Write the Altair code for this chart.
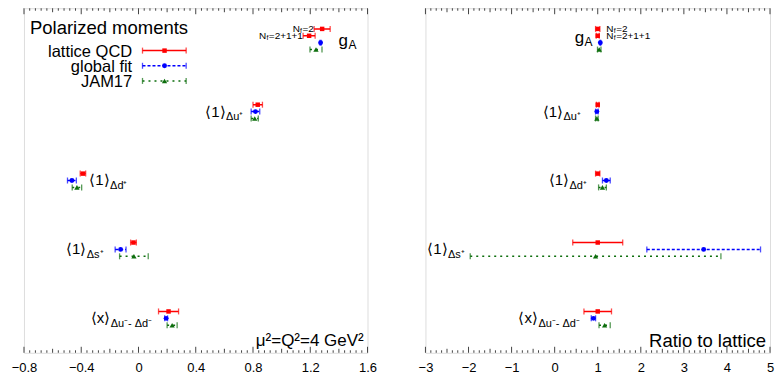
import altair as alt
import numpy as np
import pandas as pd

# ---------------- data ----------------
rows = ["gA", "du", "dd", "ds", "x"]
label_main = ["g", "⟨1⟩", "⟨1⟩", "⟨1⟩", "⟨x⟩"]
label_sub = ["A", "Δu⁺", "Δd⁺", "Δs⁺", "Δu⁻- Δd⁻"]

point_row = [0, 0, 0, 0, 1, 1, 1, 2, 2, 2, 3, 3, 3, 4, 4, 4]
point_series = ["lattice", "lattice", "global", "jam"] + ["lattice", "global", "jam"] * 4
point_tag = ["2", "2+1+1"] + [""] * 14

moment_value = [1.283, 1.192, 1.272, 1.240, 0.833, 0.817, 0.812,
                -0.388, -0.465, -0.430, -0.035, -0.125, -0.032, 0.210, 0.193, 0.235]
moment_err = [0.056, 0.042, 0.004, 0.042, 0.033, 0.030, 0.025,
              0.019, 0.031, 0.033, 0.020, 0.038, 0.100, 0.070, 0.010, 0.035]
ratio_value = [1.0, 1.0, 1.06, 1.035, 1.0, 0.98, 0.98,
               1.0, 1.20, 1.11, 1.0, 3.46, 0.95, 1.0, 0.90, 1.16]
ratio_err = [0.05, 0.035, 0.01, 0.04, 0.03, 0.03, 0.03,
             0.05, 0.09, 0.09, 0.58, 1.32, 2.91, 0.32, 0.05, 0.13]

series_names = ["lattice", "global", "jam"]
series_labels = ["lattice QCD", "global fit", "JAM17"]
left_ticks_lab = [-0.8, -0.4, 0, 0.4, 0.8, 1.2, 1.6]
right_ticks_lab = [-3, -2, -1, 0, 1, 2, 3, 4, 5]

# ---------------- layout / styling ----------------
FONT = "Liberation Sans"
FRAME = "#444444"
W_L, W_R, H = 344, 345, 345
colors = ["#ff0000", "#0000ff", "#0d6e0d"]
dashes = [[1, 0], [3, 2], [2, 4]]
shapes = ["square", "circle", "triangle-up"]
sizes = [20, 28, 32]

color_scale = alt.Scale(domain=series_names, range=colors)
dash_scale = alt.Scale(domain=series_names, range=dashes)
shape_scale = alt.Scale(domain=series_names, range=shapes)
size_scale = alt.Scale(domain=series_names, range=sizes)
ys = alt.Scale(domain=[0, 5], reverse=True, nice=False, zero=False)

df = pd.DataFrame({"row": point_row, "series": point_series, "tag": point_tag,
                   "mv": moment_value, "me": moment_err,
                   "rv": ratio_value, "re": ratio_err})
df["k"] = df.groupby("row").cumcount()
kg = df[df.series == "global"].set_index("row")["k"]
df["pos"] = df["row"] + 0.5 + 0.1 * (df["k"] - df["row"].map(kg))


def tick_frame(lo, hi, minor, medium, major):
    t = np.round(np.arange(lo, hi + minor / 2, minor), 6)
    lev = []
    for v in t:
        if abs(v / major - round(v / major)) < 1e-6:
            lev.append("major")
        elif abs(v / medium - round(v / medium)) < 1e-6:
            lev.append("medium")
        else:
            lev.append("minor")
    return pd.DataFrame({"t": t, "lev": lev})


def panel(vcol, ecol, domain, ticks_lab, fmt, ticks_df, width, anchors, label_y, extras):
    d = df.copy()
    d["v"] = d[vcol]
    d["lo"] = d[vcol] - d[ecol]
    d["hi"] = d[vcol] + d[ecol]
    xs = alt.Scale(domain=domain, nice=False, zero=False)
    xaxis = alt.Axis(values=ticks_lab, format=fmt, ticks=False, domain=False, grid=False,
                     labelFont=FONT, labelFontSize=13, labelColor="#000", labelPadding=9,
                     title=None, labelFlush=False, labelOverlap=False)

    def X(f):
        return alt.X(f, scale=xs, axis=xaxis)

    Y = alt.Y("pos:Q", scale=ys, axis=None)
    base = alt.Chart(d)
    bars = base.mark_rule(strokeWidth=1.5).encode(
        x=X("lo:Q"), x2="hi:Q", y=Y,
        color=alt.Color("series:N", scale=color_scale, legend=None),
        strokeDash=alt.StrokeDash("series:N", scale=dash_scale, legend=None))
    caps = base.transform_fold(["lo", "hi"], as_=["end", "xe"]).mark_tick(
        orient="vertical", size=6, thickness=1.3).encode(
        x=X("xe:Q"), y=Y, color=alt.Color("series:N", scale=color_scale, legend=None))
    pts = base.mark_point(filled=True, opacity=1).encode(
        x=X("v:Q"), y=Y,
        color=alt.Color("series:N", scale=color_scale, legend=None),
        shape=alt.Shape("series:N", scale=shape_scale, legend=None),
        size=alt.Size("series:N", scale=size_scale, legend=None))

    layers = [bars, caps, pts]

    # inward tick marks top and bottom
    tc = alt.Chart(ticks_df)
    for lev, ln in [("major", 6), ("medium", 4), ("minor", 2.5)]:
        layers.append(tc.transform_filter(alt.datum.lev == lev).mark_rule(
            color=FRAME, strokeWidth=1).encode(x=X("t:Q"), y=alt.value(H), y2=alt.value(H - ln)))
        layers.append(tc.transform_filter(alt.datum.lev == lev).mark_rule(
            color=FRAME, strokeWidth=1).encode(x=X("t:Q"), y=alt.value(0), y2=alt.value(ln)))

    # row labels (main text + subscript)
    lab = pd.DataFrame({"row": rows, "main": label_main, "sub": label_sub,
                        "ax": anchors, "ly": label_y})
    lc = alt.Chart(lab)
    layers.append(lc.mark_text(align="right", baseline="alphabetic", font=FONT, color="#000").encode(
        x=X("ax:Q"), y=alt.Y("ly:Q", scale=ys, axis=None), text="main:N",
        size=alt.condition("datum.row == 'gA'", alt.value(17), alt.value(15))))
    layers.append(lc.mark_text(align="left", baseline="alphabetic", font=FONT, color="#000", dy=3.5, dx=0.5).encode(
        x=X("ax:Q"), y=alt.Y("ly:Q", scale=ys, axis=None), text="sub:N",
        size=alt.condition("datum.row == 'gA'", alt.value(12), alt.value(11))))

    for e in extras:
        layers.append(e(X))
    return alt.layer(*layers).properties(width=width, height=H)


def nf_labels(xs_pos):
    def make(X):
        t = df[df.tag != ""].copy()
        t["tx"] = xs_pos
        c = alt.Chart(t)
        yy = alt.Y("pos:Q", scale=ys, axis=None)
        a = c.mark_text(align="left", baseline="middle", font=FONT, fontSize=10, text="N").encode(
            x=X("tx:Q"), y=yy)
        b = c.mark_text(align="left", baseline="middle", font=FONT, fontSize=7, text="f", dx=7.4, dy=2.5).encode(
            x=X("tx:Q"), y=yy)
        cc = c.mark_text(align="left", baseline="middle", font=FONT, fontSize=10, dx=9.8).encode(
            x=X("tx:Q"), y=yy, text=alt.Text("eq:N")).transform_calculate(eq="'=' + datum.tag")
        return alt.layer(a, b, cc)
    return make


def note(txt, xv, yv, size):
    def make(X):
        d = pd.DataFrame({"x": [xv], "y": [yv], "t": [txt]})
        return alt.Chart(d).mark_text(align="right", baseline="alphabetic", font=FONT,
                                      fontSize=size, color="#000").encode(
            x=X("x:Q"), y=alt.Y("y:Q", scale=ys, axis=None), text="t:N")
    return make


def legend_block(X):
    lg = pd.DataFrame({"series": series_names, "label": series_labels,
                       "ly": [0.615, 0.835, 1.055]})
    lg["x0"] = 0.028
    lg["x1"] = 0.333
    lg["xm"] = 0.182
    lg["xt"] = -0.044
    c = alt.Chart(lg)
    yy = alt.Y("ly:Q", scale=ys, axis=None)
    col = alt.Color("series:N", scale=color_scale, legend=None)
    line = c.mark_rule(strokeWidth=1.5).encode(
        x=X("x0:Q"), x2="x1:Q", y=yy, color=col,
        strokeDash=alt.StrokeDash("series:N", scale=dash_scale, legend=None))
    caps = c.transform_fold(["x0", "x1"], as_=["end", "xe"]).mark_tick(
        orient="vertical", size=6, thickness=1.3).encode(x=X("xe:Q"), y=yy, color=col)
    pt = c.mark_point(filled=True, opacity=1).encode(
        x=X("xm:Q"), y=yy, color=col,
        shape=alt.Shape("series:N", scale=shape_scale, legend=None),
        size=alt.Size("series:N", scale=size_scale, legend=None))
    txt = c.mark_text(align="right", baseline="middle", font=FONT, fontSize=16.5, color="#000", dy=1).encode(
        x=X("xt:Q"), y=yy, text="label:N")
    title = alt.Chart(pd.DataFrame({"x": [-0.758], "y": [0.285], "t": ["Polarized moments"]})).mark_text(
        align="left", baseline="middle", font=FONT, fontSize=18.5, color="#000").encode(
        x=X("x:Q"), y=alt.Y("y:Q", scale=ys, axis=None), text="t:N")
    return alt.layer(line, caps, pt, txt, title)


left_ticks = tick_frame(-0.8, 1.6, 0.04, 0.2, 0.4)
right_ticks = tick_frame(-3, 5, 0.125, 0.5, 1.0)

norm_y = [r + 0.5 + 0.072 for r in range(5)]

left = panel("mv", "me", [-0.8, 1.6], left_ticks_lab, ".1~f", left_ticks, W_L,
             [1.464, 0.608, -0.202, -0.365, -0.198],
             [0.546] + norm_y[1:],
             [nf_labels([1.077, 0.842]), note("μ²=Q²=4 GeV²", 1.573, 4.9, 17), legend_block])

right = panel("rv", "re", [-3, 5], right_ticks_lab, "d", right_ticks, W_R,
              [0.683, 0.193, 0.333, -2.487, -0.389],
              [0.5] + norm_y[1:],
              [nf_labels([1.2, 1.2]), note("Ratio to lattice", 4.909, 4.915, 18.5)])

chart = alt.hconcat(left, right, spacing=58, bounds="flush").properties(
    padding={"left": 10, "top": 7, "right": 0, "bottom": 0}
).configure_view(stroke=FRAME, strokeWidth=2).configure(font=FONT)

chart.save("out.html", embed_options={"renderer": "svg", "actions": False})
